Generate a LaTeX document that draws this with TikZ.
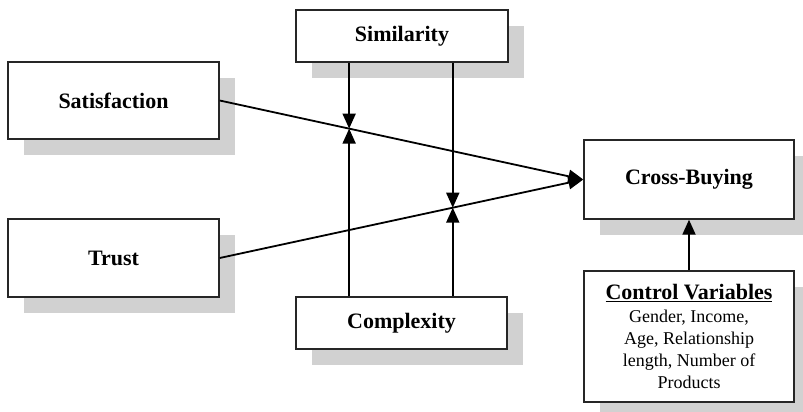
\documentclass[tikz,border=0pt]{standalone}
\usepackage{fontspec}
\setmainfont{Liberation Serif}
\usetikzlibrary{arrows.meta,calc,shadows}
\begin{document}
\begin{tikzpicture}[x=1pt,y=-1pt,
  box/.style={draw=black!85, line width=1.4pt, fill=white, inner sep=0pt,
    font=\fontsize{22}{26}\selectfont\bfseries,
    drop shadow={fill=black!18, opacity=1, shadow xshift=16pt, shadow yshift=-16pt}},
  conn/.style={line width=1.8pt, draw=black,
    -{Triangle[length=15pt,width=13pt]}},
  plain/.style={line width=1.8pt, draw=black}]
\useasboundingbox (0,0) rectangle (803,412);
\node[box, minimum width=211pt, minimum height=77pt] (sat) at (113.5,100.5) {Satisfaction};
\node[box, minimum width=211pt, minimum height=78pt] (tru) at (113.5,258) {Trust};
\node[box, minimum width=212pt, minimum height=52pt] (sim) at (402,36) {Similarity};
\node[box, minimum width=211pt, minimum height=52pt] (cpx) at (401.5,323) {Complexity};
\node[box, minimum width=210pt, minimum height=79pt] (cb) at (689,179.5) {Cross-Buying};
\node[box, minimum width=210pt, minimum height=131pt, align=center,
      font=\fontsize{18}{22}\selectfont] (cv) at (689,336.5)
  {{\fontsize{22}{26}\selectfont\bfseries\underline{Control Variables}}\\[1pt]
   Gender, Income,\\ Age, Relationship\\ length, Number of\\ Products};
\draw[conn] (sat.east) -- (cb.west);
\draw[conn] (tru.east) -- (cb.west);
\coordinate (m1) at ($(sat.east)!0.356!(cb.west)$);
\coordinate (m2) at ($(tru.east)!0.641!(cb.west)$);
\draw[conn] (sim.south -| m1) -- (m1);
\draw[conn] (cpx.north -| m1) -- (m1);
\draw[conn] (sim.south -| m2) -- (m2);
\draw[conn] (cpx.north -| m2) -- (m2);
\draw[conn] (cv.north) -- (cb.south);
\end{tikzpicture}
\end{document}
